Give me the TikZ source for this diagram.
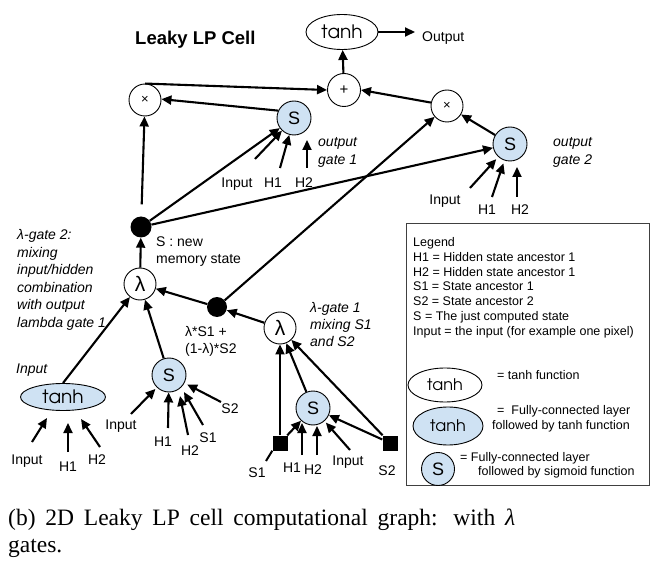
\documentclass[tikz,border=0pt]{standalone}
\usepackage{fontspec}
\setmainfont{Liberation Sans}
\newfontfamily\capfont{Liberation Serif}
\usetikzlibrary{arrows.meta,shapes.geometric}
\definecolor{fcblue}{RGB}{207,226,243}
\newcommand\tanhf{\fontencoding{OT1}\fontfamily{pag}\fontsize{18.5}{18.5}\selectfont}
\newcommand\tanhsmall{\fontencoding{OT1}\fontfamily{pag}\fontsize{16}{16}\selectfont}
\begin{document}
\begin{tikzpicture}[x=1pt,y=-1pt,
  arr/.style={line width=2.1pt,-{Triangle[length=10pt,width=9pt]}},
  plainln/.style={line width=2pt},
  op/.style={circle,draw,line width=0.9pt,inner sep=0pt,minimum size=32pt},
  sg/.style={circle,draw,line width=0.9pt,fill=fcblue,inner sep=0pt,minimum size=34pt,font=\fontsize{18}{18}\selectfont},
  dotn/.style={circle,fill=black,inner sep=0pt,minimum size=21pt},
  sqn/.style={rectangle,fill=black,inner sep=0pt,minimum size=15pt},
  lbl/.style={font=\fontsize{14}{14}\selectfont,inner sep=0pt,text height=10pt,text depth=0pt},
  note/.style={font=\fontsize{14}{17.5}\selectfont\itshape,align=left,inner sep=0pt,anchor=north west},
  lamf/.style={font=\fontsize{21}{21}\selectfont},
  tanhell/.style={ellipse,draw,line width=0.9pt,inner sep=0pt,font=\tanhf},
  lgt/.style={font=\fontsize{12.5}{12.5}\selectfont,inner sep=0pt,anchor=west,text height=9pt,text depth=0pt}
]
\useasboundingbox (0,0) rectangle (653,561);

% title
\node[anchor=west,font=\fontsize{18.5}{18.5}\selectfont\bfseries,inner sep=0pt] (title) at (135,40) {Leaky LP Cell};

% top part
\node[tanhell,minimum width=72pt,minimum height=35pt] (tanhT) at (342,32) {tanh};
\node[lbl,anchor=west] (out) at (422,37) {Output};
\draw[arr,shorten >=7pt] (tanhT.east) -- (out.west |- tanhT.east);

\node[op,minimum size=33pt,font=\fontsize{15}{15}\selectfont] (plus) at (344,90) {+};
\draw[arr] (plus) -- (tanhT);
\node[op,font=\fontsize{13}{13}\selectfont] (xL) at (145,100) {×};
\node[op,font=\fontsize{13}{13}\selectfont] (xR) at (447,106) {×};
\node[sg] (S1g) at (294,118) {S};
\node[sg] (S2g) at (510,144) {S};
\draw[arr] (xL.north) -- (plus.west);
\draw[arr] (S1g.155) -- (xL.3);
\draw[arr] (xR.168) -- (plus.east);
\draw[arr] (S2g) -- (xR);

% output gate 1 inputs
\coordinate (t11) at (255,159);
\coordinate (t12) at (280,168);
\coordinate (t13) at (307,168);
\coordinate (h13) at (307,140);
\draw[arr] (t11) -- (S1g);
\draw[arr] (t12) -- (S1g);
\draw[arr] (t13) -- (h13);
\node[lbl] (i1) at (237,183) {Input};
\node[lbl] (a1) at (273,183) {H1};
\node[lbl] (b1) at (304,183) {H2};
\node[note] (og1) at (318,137.5) {output\\gate 1};

% output gate 2 inputs
\coordinate (t21) at (470,188);
\coordinate (t22) at (492,197);
\coordinate (t23) at (517,197);
\coordinate (h23) at (517,167);
\draw[arr,shorten >=3pt] (t21) -- (S2g);
\draw[arr,shorten >=3pt] (t22) -- (S2g);
\draw[arr] (t23) -- (h23);
\node[lbl] (i2) at (445,200) {Input};
\node[lbl] (a2) at (487,210) {H1};
\node[lbl] (b2) at (520,210) {H2};
\node[note] (og2) at (553,137.5) {output\\gate 2};

% memory state
\node[dotn] (dot) at (141,227) {};
\draw[arr,shorten <=12pt] (dot) -- (xL);
\draw[arr] (dot) -- (S1g);
\draw[arr] (dot) -- (S2g);
\node[note,font=\fontsize{14}{17}\selectfont] (nms) at (156,236.5) {S : new\\memory state};

\node[op,lamf] (lam2) at (140,284) {λ};
\draw[arr] (lam2) -- (dot);
\node[note] (ng2) at (17,229.5) {λ-gate 2:\\mixing\\input/hidden\\combination\\with output\\lambda gate 1};

\node[dotn,minimum size=20pt] (dot2) at (217,307) {};
\draw[arr] (dot2) -- (lam2);
\draw[arr] (dot2) -- (xR);
\node[note,font=\fontsize{14}{16.5}\selectfont] (nmix) at (185,326.5) {λ*S1 +\\(1-λ)*S2};

\node[op,lamf] (lam1) at (280,328) {λ};
\draw[arr] (lam1) -- (dot2);
\node[note,font=\fontsize{14}{17}\selectfont\itshape] (ng1) at (310,302.5) {λ-gate 1\\mixing S1\\and S2};

% lambda gate 1 inputs
\node[sg] (S3) at (313,408) {S};
\node[sqn] (sq1) at (280,443) {};
\node[sqn] (sq2) at (390,443) {};
\draw[arr] (sq1) -- (lam1);
\draw[arr] (sq1) -- (S3);
\draw[arr] (S3) -- (lam1);
\draw[arr] (sq2) -- (lam1);
\draw[arr] (sq2) -- (S3);
\coordinate (t31) at (302,455);
\coordinate (h31) at (302,423);
\coordinate (t32) at (317,455);
\coordinate (h32) at (317,426);
\coordinate (t33) at (350,450);
\coordinate (s1t) at (266,461);
\draw[arr] (t31) -- (h31);
\draw[arr] (t32) -- (h32);
\draw[arr,shorten >=2pt] (t33) -- (S3);
\draw[plainln] (s1t) -- (sq1.south west);
\node[lbl] (s1l) at (257,472) {S1};
\node[lbl] (a3) at (292,467) {H1};
\node[lbl] (b3) at (313,469) {H2};
\node[lbl] (i3) at (348,460) {Input};
\node[lbl] (s2l) at (387,470) {S2};

% lambda gate 2 inputs: tanh
\node[tanhell,fill=fcblue,minimum width=85pt,minimum height=27pt] (tanhB) at (63,397) {tanh};
\node[lbl,anchor=west,font=\fontsize{14}{14}\selectfont\itshape] (inT) at (16,368) {Input};
\draw[arr] (tanhB.north) -- (lam2);
\coordinate (t41) at (32,442);
\coordinate (h41) at (47,418);
\coordinate (t42) at (68,452);
\coordinate (h42) at (68,423);
\coordinate (t43) at (100,447);
\coordinate (h43) at (81,419);
\draw[arr] (t41) -- (h41);
\draw[arr] (t42) -- (h42);
\draw[arr] (t43) -- (h43);
\node[lbl] (i4) at (27,459) {Input};
\node[lbl] (a4) at (68,466) {H1};
\node[lbl] (b4) at (97,459) {H2};

% lambda gate 2 inputs: S
\node[sg] (S4) at (169,375) {S};
\draw[arr] (S4) -- (lam2);
\coordinate (t51) at (131,414);
\coordinate (t52) at (168,428);
\coordinate (t53) at (188,435);
\coordinate (h53) at (180,396);
\coordinate (t54) at (203,425);
\coordinate (h54) at (184,392);
\coordinate (t55) at (221,402);
\draw[arr,shorten >=2pt] (t51) -- (S4);
\draw[arr] (t52) -- (S4);
\draw[arr] (t53) -- (h53);
\draw[arr] (t54) -- (h54);
\draw[arr,shorten >=3pt] (t55) -- (S4);
\node[lbl] (i5) at (121,424) {Input};
\node[lbl] (a5) at (163,441) {H1};
\node[lbl] (b5) at (190,450) {H2};
\node[lbl] (c5) at (208,437) {S1};
\node[lbl] (d5) at (230,408) {S2};

% legend
\node[draw=black!75,line width=0.9pt,anchor=north west,minimum width=243pt,minimum height=262pt,inner sep=0pt] (legend) at (406,223) {};
\node[lgt] (lg1) at (413,242) {Legend};
\node[lgt] (lg2) at (413,256.8) {H1 = Hidden state ancestor 1};
\node[lgt] (lg3) at (413,271.6) {H2 = Hidden state ancestor 1};
\node[lgt] (lg4) at (413,286.4) {S1 = State ancestor 1};
\node[lgt] (lg5) at (413,301.2) {S2 = State ancestor 2};
\node[lgt] (lg6) at (413,316) {S = The just computed state};
\node[lgt] (lg7) at (413,330.8) {Input = the input (for example one pixel)};
\node[tanhell,font=\tanhsmall,minimum width=74pt,minimum height=34pt] (lgT) at (445,385) {tanh};
\node[lgt] (lgTt) at (497,375) {= tanh function};
\node[tanhell,font=\tanhsmall,fill=fcblue,minimum width=70pt,minimum height=38pt] (lgB) at (448,426) {tanh};
\node[lgt] (lgBt1) at (497,410) {=\ \ Fully-connected layer};
\node[lgt] (lgBt2) at (492,425) {followed by tanh function};
\node[sg,minimum size=33pt] (lgS) at (438,469) {S};
\node[lgt] (lgSt1) at (460,457) {= Fully-connected layer};
\node[lgt] (lgSt2) at (478,471) {followed by sigmoid function};

% caption
\node[anchor=base west,inner sep=0pt,font=\capfont\fontsize{23.5}{27}\selectfont] (cap1) at (8,525) {\makebox[507pt][s]{(b) 2D Leaky LP cell computational graph: with {\itshape λ}}};
\node[anchor=base west,inner sep=0pt,font=\capfont\fontsize{23.5}{27}\selectfont] (cap2) at (8,552) {gates.};
\end{tikzpicture}
\end{document}
